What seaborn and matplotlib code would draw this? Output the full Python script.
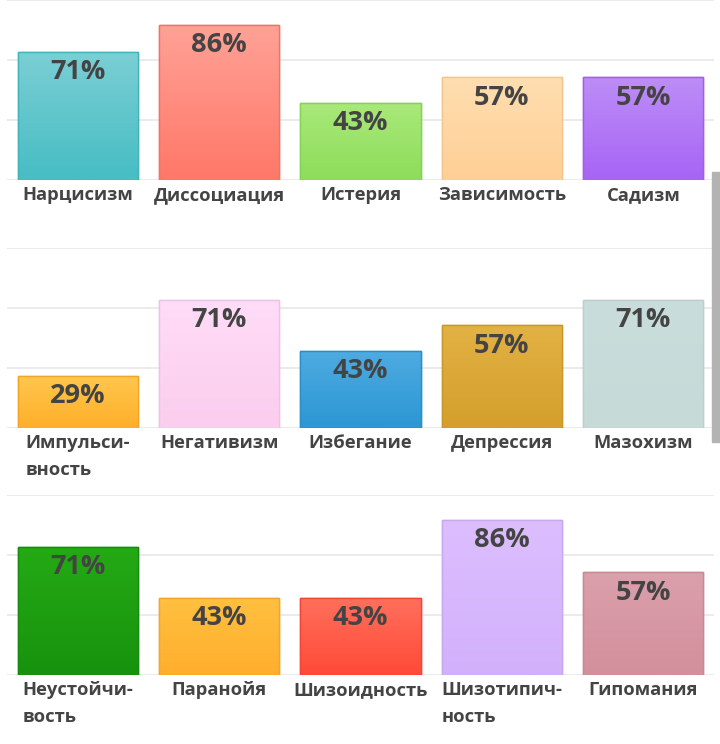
# -*- coding: utf-8 -*-
import numpy as np
import pandas as pd
import matplotlib
matplotlib.use("Agg")
import matplotlib.pyplot as plt
import matplotlib.colors as mcolors
from matplotlib.patches import Rectangle
import seaborn as sns

# data
row1_names = ["Нарцисизм", "Диссоциация", "Истерия", "Зависимость", "Садизм"]
row1_values = [71, 86, 43, 57, 57]
row1_top = ["#7acfd4", "#ffa196", "#a9e97a", "#ffdeb0", "#bd8df7"]
row1_bottom = ["#47bdc4", "#ff7868", "#8ddd5a", "#ffcf96", "#a764f5"]

row2_names = ["Импульси-\nвность", "Негативизм", "Избегание", "Депрессия", "Мазохизм"]
row2_values = [29, 71, 43, 57, 71]
row2_top = ["#ffc74e", "#ffdcf7", "#4eabe1", "#e2b244", "#c9dedc"]
row2_bottom = ["#ffaf2a", "#fbcdee", "#2c97d4", "#d49f2c", "#c6dad8"]

row3_names = ["Неустойчи-\nвость", "Паранойя", "Шизоидность", "Шизотипич-\nность", "Гипомания"]
row3_values = [71, 43, 43, 86, 57]
row3_top = ["#24aa14", "#ffc040", "#ff705c", "#dcbeff", "#daa0ab"]
row3_bottom = ["#18920e", "#ffae2c", "#ff4a38", "#d2b1fb", "#d38f9c"]

grid_ticks = [0, 100 / 3, 200 / 3, 100]

plt.rcParams["font.family"] = ["Open Sans", "DejaVu Sans"]
TEXT = "#444444"


def darker(c, f=0.95):
    r, g, b = mcolors.to_rgb(c)
    return (r * f, g * f, b * f)


def draw_row(ax, names, values, tops, bottoms):
    df = pd.DataFrame({"name": names, "value": values})
    sns.barplot(data=df, x="name", y="value", ax=ax, width=0.85,
                color="white", saturation=1, zorder=2)
    ax.set_xlim(-0.5, len(names) - 0.5)
    ax.set_ylim(0, 100)
    for patch, top, bot, val in zip(ax.patches, tops, bottoms, values):
        x0, y0 = patch.get_x(), patch.get_y()
        w, h = patch.get_width(), patch.get_height()
        cmap = mcolors.LinearSegmentedColormap.from_list("g", [bot, top])
        grad = np.linspace(0, 1, 64).reshape(-1, 1)
        im = ax.imshow(grad, cmap=cmap, aspect="auto", origin="lower",
                       extent=[x0, x0 + w, y0, y0 + h], zorder=2.5)
        im.set_clip_path(patch)
        patch.set_edgecolor(darker(bot))
        patch.set_linewidth(1.0)
        ax.add_patch(Rectangle((x0, y0), w, h, fill=False,
                               edgecolor=darker(bot), lw=1.0, zorder=3))
        ax.annotate(f"{val}%", (x0 + w / 2, val), xytext=(0, -14.5),
                    textcoords="offset points", ha="center", va="center",
                    fontsize=19.5, fontweight="bold", color=TEXT, zorder=4)
    ax.set_xlim(-0.5, len(names) - 0.5)
    ax.set_ylim(0, 100)
    ax.set_yticks(grid_ticks)
    ax.yaxis.grid(True, color="#e8e8ea", lw=1.2, zorder=0)
    ax.set_axisbelow(True)
    ax.tick_params(left=False, labelleft=False, bottom=False, length=0, pad=4.5)
    ax.set_xticks(range(len(names)))
    ax.set_xticklabels(names, fontsize=13.2, fontweight="bold", color=TEXT,
                       va="top", ha="center", multialignment="left",
                       linespacing=1.6)
    ax.set_xlabel("")
    ax.set_ylabel("")
    for s in ax.spines.values():
        s.set_visible(False)


fig = plt.figure(figsize=(7.2, 7.44), dpi=100)
H = 744.0
W = 720.0
x0, x1 = 7, 714
for top_px, names, vals, tops, bots in [
    (0, row1_names, row1_values, row1_top, row1_bottom),
    (248, row2_names, row2_values, row2_top, row2_bottom),
    (495, row3_names, row3_values, row3_top, row3_bottom),
]:
    ax = fig.add_axes([x0 / W, 1 - (top_px + 180) / H, (x1 - x0) / W, 180 / H])
    draw_row(ax, names, vals, tops, bots)

# scroll bar strip at right edge
fig.patches.append(Rectangle((712 / W, 1 - 442 / H), 8 / W, 270 / H,
                             transform=fig.transFigure, color="#b3b3b3",
                             zorder=10))

fig.savefig("out.png", dpi=100)
